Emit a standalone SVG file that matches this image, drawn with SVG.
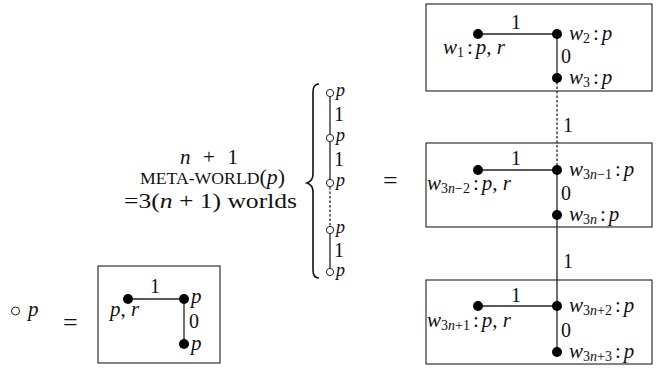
<svg xmlns="http://www.w3.org/2000/svg" width="662" height="369" viewBox="0 0 662 369">
<style>
.t{font-family:'Liberation Serif',serif;font-size:21px;fill:#111}
.m{font-size:20px}
.c{font-size:18px}
.i{font-style:italic}
.s{font-size:14px}
.sc{font-size:17px}
.eq{font-size:26px}
.box{fill:none;stroke:#333;stroke-width:1.2}
.e{stroke:#222;stroke-width:1.3;fill:none}
.d{fill:#000}
.o{fill:#fff;stroke:#222;stroke-width:1}
</style>
<rect width="662" height="369" fill="#fff"/>
<g id="connectors">
<line class="e" x1="557" y1="78" x2="557" y2="170" stroke-dasharray="1.5,3" stroke-linecap="round"/>
<line class="e" x1="557" y1="215" x2="557" y2="306"/>
<line class="e" x1="330" y1="93" x2="330" y2="183"/>
<line class="e" x1="330" y1="183" x2="330" y2="230" stroke-dasharray="1.5,3" stroke-linecap="round"/>
<line class="e" x1="330" y1="230" x2="330" y2="272"/>
</g>
<g id="legend">
<circle class="o" cx="15.5" cy="311" r="4"/>
<text class="t i" x="28" y="316">p</text>
<text class="t eq" x="63" y="331">=</text>
</g>
<g id="box0">
<rect class="box" x="98" y="266" width="122" height="97"/>
<line class="e" x1="128" y1="299" x2="184" y2="299"/>
<line class="e" x1="184" y1="299" x2="184" y2="344"/>
<circle class="d" cx="128" cy="299" r="5"/>
<circle class="d" cx="184" cy="299" r="5"/>
<circle class="d" cx="184" cy="344" r="5"/>
<text class="t m" x="150" y="293">1</text>
<text class="t i" x="191" y="303">p</text>
<text class="t" x="110" y="316"><tspan class="i">p</tspan>, <tspan class="i">r</tspan></text>
<text class="t m" x="189" y="328">0</text>
<text class="t i" x="191" y="350">p</text>
</g>
<g id="metaworld">
<text class="t" x="180" y="164" textLength="58" lengthAdjust="spacing"><tspan class="i">n</tspan> + 1</text>
<text class="t" x="140" y="184" textLength="145" lengthAdjust="spacingAndGlyphs"><tspan class="sc">META-WORLD</tspan>(<tspan class="i">p</tspan>)</text>
<text class="t" x="124" y="208" textLength="173" lengthAdjust="spacingAndGlyphs">=3(<tspan class="i">n</tspan> + 1) worlds</text>
<path d="M319,84 Q313,84 313,92 L313,174 Q313,181 307,183 Q313,185 313,192 L313,270 Q313,278 319,278" fill="none" stroke="#111" stroke-width="1.6"/>
</g>
<g id="chain">
<circle class="o" cx="330" cy="93" r="3.6"/>
<circle class="o" cx="330" cy="138" r="3.6"/>
<circle class="o" cx="330" cy="183" r="3.6"/>
<circle class="o" cx="330" cy="230" r="3.6"/>
<circle class="o" cx="330" cy="272" r="3.6"/>
<text class="t c i" x="336" y="96">p</text>
<text class="t m" x="334" y="121">1</text>
<text class="t c i" x="336" y="141">p</text>
<text class="t m" x="334" y="166">1</text>
<text class="t c i" x="336" y="186">p</text>
<text class="t c i" x="336" y="233">p</text>
<text class="t m" x="334" y="257">1</text>
<text class="t c i" x="336" y="276">p</text>
</g>
<text class="t eq" x="383" y="189">=</text>
<g id="box1">
<rect class="box" x="426" y="4" width="226" height="87"/>
<line class="e" x1="478" y1="34" x2="557" y2="34"/>
<line class="e" x1="557" y1="34" x2="557" y2="78"/>
<circle class="d" cx="478" cy="34" r="5"/>
<circle class="d" cx="557" cy="34" r="5"/>
<circle class="d" cx="557" cy="78" r="5"/>
<text class="t m" x="511" y="29">1</text>
<text class="t" x="569" y="40"><tspan class="i">w</tspan><tspan class="s" dy="3">2</tspan><tspan dy="-3" dx="3">:</tspan><tspan class="i" dx="3">p</tspan></text>
<text class="t" x="443" y="54"><tspan class="i">w</tspan><tspan class="s" dy="3">1</tspan><tspan dy="-3" dx="3">:</tspan><tspan class="i" dx="3">p</tspan>, <tspan class="i">r</tspan></text>
<text class="t m" x="561" y="63">0</text>
<text class="t" x="569" y="84"><tspan class="i">w</tspan><tspan class="s" dy="3">3</tspan><tspan dy="-3" dx="3">:</tspan><tspan class="i" dx="3">p</tspan></text>
</g>
<text class="t m" x="563" y="132">1</text>
<g id="box2">
<rect class="box" x="426" y="143" width="226" height="84"/>
<line class="e" x1="478" y1="170" x2="557" y2="170"/>
<line class="e" x1="557" y1="170" x2="557" y2="215"/>
<circle class="d" cx="478" cy="170" r="5"/>
<circle class="d" cx="557" cy="170" r="5"/>
<circle class="d" cx="557" cy="215" r="5"/>
<text class="t m" x="511" y="165">1</text>
<text class="t" x="569" y="176"><tspan class="i">w</tspan><tspan class="s" dy="3">3<tspan class="i">n</tspan>−1</tspan><tspan dy="-3" dx="3">:</tspan><tspan class="i" dx="3">p</tspan></text>
<text class="t" x="427" y="190"><tspan class="i">w</tspan><tspan class="s" dy="3">3<tspan class="i">n</tspan>−2</tspan><tspan dy="-3" dx="3">:</tspan><tspan class="i" dx="3">p</tspan>, <tspan class="i">r</tspan></text>
<text class="t m" x="561" y="200">0</text>
<text class="t" x="569" y="221"><tspan class="i">w</tspan><tspan class="s" dy="3">3<tspan class="i">n</tspan></tspan><tspan dy="-3" dx="3">:</tspan><tspan class="i" dx="3">p</tspan></text>
</g>
<text class="t m" x="563" y="268">1</text>
<g id="box3">
<rect class="box" x="426" y="280" width="226" height="84"/>
<line class="e" x1="478" y1="306" x2="557" y2="306"/>
<line class="e" x1="557" y1="306" x2="557" y2="352"/>
<circle class="d" cx="478" cy="306" r="5"/>
<circle class="d" cx="557" cy="306" r="5"/>
<circle class="d" cx="557" cy="352" r="5"/>
<text class="t m" x="511" y="302">1</text>
<text class="t" x="569" y="312"><tspan class="i">w</tspan><tspan class="s" dy="3">3<tspan class="i">n</tspan>+2</tspan><tspan dy="-3" dx="3">:</tspan><tspan class="i" dx="3">p</tspan></text>
<text class="t" x="427" y="327"><tspan class="i">w</tspan><tspan class="s" dy="3">3<tspan class="i">n</tspan>+1</tspan><tspan dy="-3" dx="3">:</tspan><tspan class="i" dx="3">p</tspan>, <tspan class="i">r</tspan></text>
<text class="t m" x="561" y="337">0</text>
<text class="t" x="569" y="358"><tspan class="i">w</tspan><tspan class="s" dy="3">3<tspan class="i">n</tspan>+3</tspan><tspan dy="-3" dx="3">:</tspan><tspan class="i" dx="3">p</tspan></text>
</g>
</svg>
